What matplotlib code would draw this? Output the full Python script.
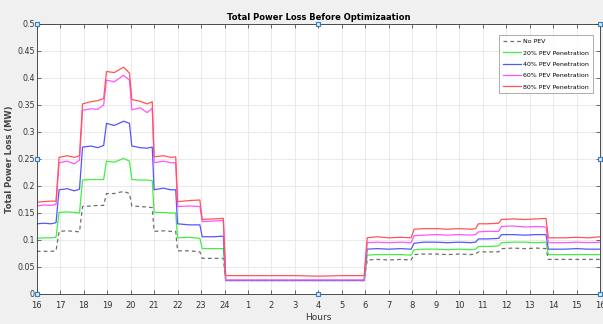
import matplotlib
matplotlib.use("Agg")
import matplotlib.pyplot as plt

# position along the 24h window starting at 16:00 (0 = 16h, 8 = 24h, 24 = 16h next day)
x_pos = [0, 0.3, 0.6, 0.82,
         0.95, 1.3, 1.6, 1.82,
         1.95, 2.3, 2.6, 2.85,
         2.97, 3.3, 3.7, 3.95,
         4.05, 4.4, 4.7, 4.92,
         5.0, 5.4, 5.7, 5.92,
         6.0, 6.5, 6.95,
         7.05, 7.5, 7.95,
         8.05, 9, 10, 11, 12, 13, 13.95,
         14.08, 14.5, 15, 15.5, 15.95,
         16.08, 16.5, 17, 17.5, 18, 18.5, 18.7,
         18.82, 19.2, 19.68,
         19.8, 20.3, 20.8, 21.3, 21.7,
         21.8, 22.5, 23, 23.5, 24]

no_pev = [0.079, 0.079, 0.079, 0.080,
          0.116, 0.117, 0.116, 0.115,
          0.162, 0.163, 0.164, 0.164,
          0.186, 0.186, 0.190, 0.186,
          0.163, 0.162, 0.161, 0.160,
          0.116, 0.117, 0.116, 0.116,
          0.080, 0.080, 0.078,
          0.066, 0.066, 0.066,
          0.025, 0.025, 0.025, 0.025, 0.025, 0.025, 0.025,
          0.063, 0.064, 0.063, 0.064, 0.063,
          0.073, 0.074, 0.074, 0.073, 0.074, 0.073, 0.074,
          0.078, 0.078, 0.078,
          0.084, 0.085, 0.084, 0.085, 0.084,
          0.064, 0.064, 0.064, 0.064, 0.064]

pev20 = [0.103, 0.104, 0.104, 0.105,
         0.151, 0.152, 0.151, 0.150,
         0.211, 0.212, 0.212, 0.212,
         0.246, 0.244, 0.251, 0.246,
         0.212, 0.211, 0.211, 0.210,
         0.151, 0.151, 0.150, 0.150,
         0.104, 0.105, 0.103,
         0.084, 0.084, 0.084,
         0.025, 0.025, 0.025, 0.025, 0.025, 0.025, 0.025,
         0.072, 0.073, 0.073, 0.073, 0.072,
         0.082, 0.083, 0.083, 0.082, 0.083, 0.082, 0.083,
         0.088, 0.088, 0.089,
         0.095, 0.096, 0.096, 0.095, 0.096,
         0.073, 0.073, 0.073, 0.073, 0.073]

pev40 = [0.130, 0.131, 0.130, 0.132,
         0.193, 0.195, 0.191, 0.194,
         0.272, 0.274, 0.271, 0.275,
         0.316, 0.312, 0.320, 0.316,
         0.274, 0.271, 0.270, 0.272,
         0.193, 0.196, 0.193, 0.193,
         0.130, 0.128, 0.128,
         0.106, 0.106, 0.107,
         0.025, 0.025, 0.025, 0.025, 0.025, 0.025, 0.025,
         0.083, 0.084, 0.083, 0.084, 0.083,
         0.094, 0.096, 0.096, 0.095, 0.096, 0.095, 0.096,
         0.102, 0.102, 0.103,
         0.110, 0.110, 0.109, 0.110, 0.110,
         0.083, 0.083, 0.084, 0.083, 0.083]

pev60 = [0.163, 0.165, 0.164, 0.166,
         0.243, 0.246, 0.241, 0.248,
         0.340, 0.343, 0.342, 0.350,
         0.396, 0.393, 0.405, 0.396,
         0.341, 0.345, 0.336, 0.344,
         0.243, 0.246, 0.243, 0.243,
         0.162, 0.163, 0.162,
         0.134, 0.135, 0.136,
         0.026, 0.026, 0.026, 0.026, 0.026, 0.026, 0.026,
         0.095, 0.096, 0.095, 0.096, 0.095,
         0.108, 0.109, 0.110, 0.109, 0.110, 0.109, 0.110,
         0.115, 0.116, 0.116,
         0.125, 0.126, 0.124, 0.125, 0.124,
         0.095, 0.095, 0.096, 0.095, 0.096]

pev80 = [0.170, 0.171, 0.172, 0.172,
         0.253, 0.256, 0.253, 0.256,
         0.352, 0.356, 0.358, 0.362,
         0.412, 0.410, 0.420, 0.409,
         0.360, 0.357, 0.352, 0.356,
         0.254, 0.256, 0.253, 0.254,
         0.171, 0.173, 0.174,
         0.138, 0.139, 0.140,
         0.034, 0.034, 0.034, 0.034, 0.033, 0.034, 0.034,
         0.104, 0.106, 0.104, 0.105, 0.104,
         0.120, 0.121, 0.121, 0.120, 0.121, 0.120, 0.121,
         0.130, 0.130, 0.131,
         0.138, 0.139, 0.138, 0.139, 0.140,
         0.104, 0.104, 0.105, 0.104, 0.106]

hour_labels = ["16", "17", "18", "19", "20", "21", "22", "23", "24",
               "1", "2", "3", "4", "5", "6", "7", "8", "9", "10",
               "11", "12", "13", "14", "15", "16"]
y_ticks = [0, 0.05, 0.1, 0.15, 0.2, 0.25, 0.3, 0.35, 0.4, 0.45, 0.5]
y_labels = ["0", "0.05", "0.1", "0.15", "0.2", "0.25", "0.3", "0.35", "0.4", "0.45", "0.5"]

fig = plt.figure(figsize=(6.03, 3.24), dpi=100, facecolor="#f0f0f0")
ax = fig.add_axes([0.061, 0.0926, 0.934, 0.8334])
ax.set_facecolor("white")

ax.plot(x_pos, no_pev, color="#555555", lw=0.9, ls=(0, (3, 2.5)), alpha=0.85, label="No PEV")
ax.plot(x_pos, pev20, color="#44ee44", lw=0.9, label="20% PEV Penetration")
ax.plot(x_pos, pev40, color="#5555ff", lw=0.9, label="40% PEV Penetration")
ax.plot(x_pos, pev60, color="#ff55ff", lw=0.9, label="60% PEV Penetration")
ax.plot(x_pos, pev80, color="#ff5555", lw=0.9, label="80% PEV Penetration")

ax.set_xlim(0, 24)
ax.set_ylim(0, 0.5)
ax.set_xticks(range(25))
ax.set_xticklabels(hour_labels)
ax.set_yticks(y_ticks)
ax.set_yticklabels(y_labels)
ax.tick_params(labelsize=6, colors="#333333", length=3, width=0.5, direction="in",
               top=True, right=True, pad=2)
ax.tick_params(axis="x", pad=5)
ax.tick_params(axis="y", labelsize=5.7, pad=1.5)
ax.grid(True, color="#e6e6e6", lw=0.6)
for s in ax.spines.values():
    s.set_color("#333333")
    s.set_linewidth(0.6)

ax.set_title("Total Power Loss Before Optimizaation", fontsize=6, fontweight="bold", pad=3)
ax.set_xlabel("Hours", fontsize=6.5, color="#333333", labelpad=2)
ax.set_ylabel("Total Power Loss (MW)", fontsize=6, color="#444444", fontweight="bold")
ax.yaxis.set_label_coords(-0.04, 0.5)

# selection handles drawn by the figure editor
hx = [0, 0, 0, 12, 12, 24, 24, 24]
hy = [0, 0.25, 0.5, 0, 0.5, 0, 0.25, 0.5]
ax.plot(hx, hy, ls="none", marker="s", ms=3, mfc="#dbe9f7", mec="#2f7fc1", mew=0.8, clip_on=False, zorder=5)

leg = ax.legend(loc="upper right", fontsize=4.5, frameon=True, fancybox=False,
                edgecolor="#888888", borderpad=0.6, handlelength=3.0, handletextpad=0.3,
                labelspacing=0.95, bbox_to_anchor=(0.993, 0.97))
leg.get_frame().set_linewidth(0.6)

fig.savefig("out.png", dpi=100, facecolor=fig.get_facecolor())
